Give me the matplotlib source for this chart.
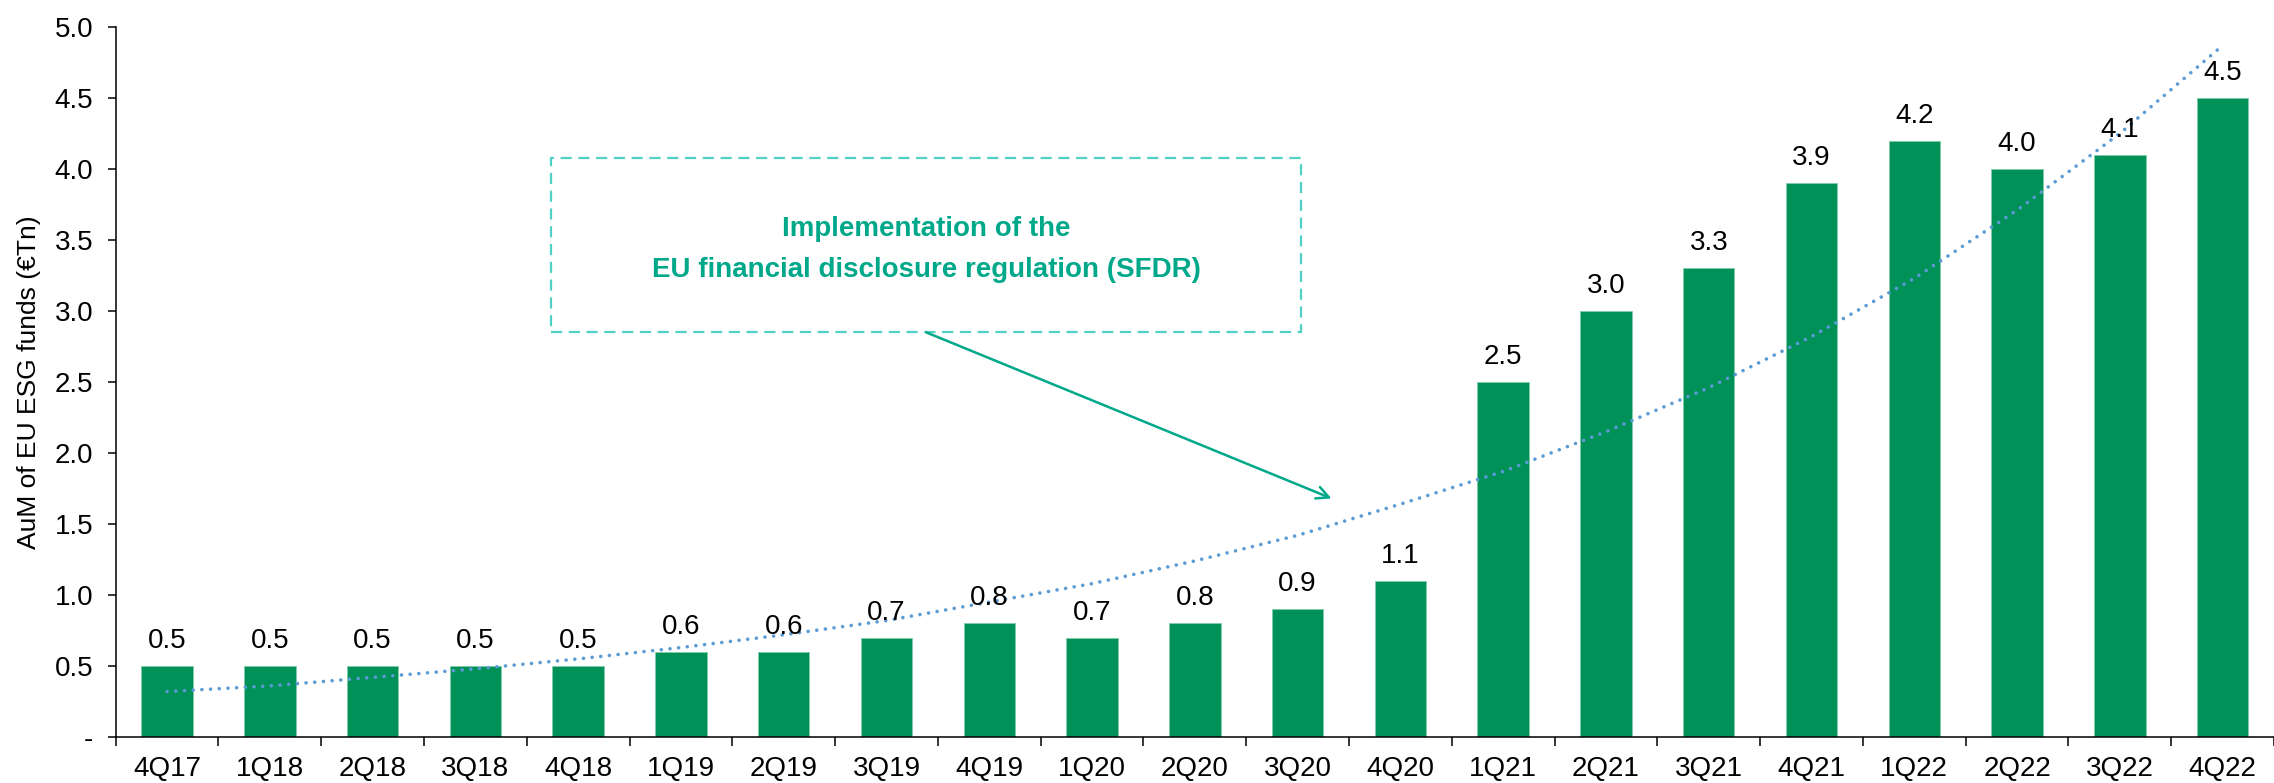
import numpy as np
import matplotlib
matplotlib.use("Agg")
from matplotlib import pyplot as plt
from matplotlib.patches import Rectangle

matplotlib.rcParams['font.family'] = ['Liberation Sans', 'DejaVu Sans']

quarters = ["4Q17", "1Q18", "2Q18", "3Q18", "4Q18", "1Q19", "2Q19", "3Q19", "4Q19",
            "1Q20", "2Q20", "3Q20", "4Q20", "1Q21", "2Q21", "3Q21", "4Q21",
            "1Q22", "2Q22", "3Q22", "4Q22"]
aum = [0.5, 0.5, 0.5, 0.5, 0.5, 0.6, 0.6, 0.7, 0.8, 0.7, 0.8, 0.9, 1.1,
       2.5, 3.0, 3.3, 3.9, 4.2, 4.0, 4.1, 4.5]
# dotted exponential trendline at each quarter
trend = [0.32, 0.36, 0.42, 0.48, 0.55, 0.63, 0.72, 0.82, 0.95, 1.08, 1.24,
         1.42, 1.64, 1.87, 2.15, 2.46, 2.82, 3.23, 3.71, 4.25, 4.87]
yticks = [0, 0.5, 1.0, 1.5, 2.0, 2.5, 3.0, 3.5, 4.0, 4.5, 5.0]
ytick_labels = ["-"] + ["%.1f" % t for t in yticks[1:]]

green = "#009159"
teal = "#00A88A"

fig = plt.figure(figsize=(22.74, 7.83), dpi=100)
ax = fig.add_axes([115.7 / 2274, 1 - 737 / 783, 1 - 115.7 / 2274, (737 - 27) / 783])

x = np.arange(len(quarters))
ax.bar(x, aum, width=0.5, color=green, edgecolor="#7fcfa8", linewidth=0.6, zorder=2)
ax.plot(x, trend, color="#5B9BD5", linewidth=2.6, linestyle=(0, (0.01, 2.4)),
        dash_capstyle="round", zorder=3)

for xi, v in zip(x, aum):
    ax.annotate("%.1f" % v, (xi, v), xytext=(0, 13), textcoords="offset points",
                ha="center", va="baseline", fontsize=20, zorder=4)

ax.set_xlim(-0.5, 20.37)
ax.set_ylim(0, 5)
ax.set_yticks(yticks)
ax.set_yticklabels(ytick_labels)
ax.set_xticks(x)
ax.set_xticklabels(quarters)
ax.set_xticks(np.arange(-0.5, 20.6, 1), minor=True)
ax.tick_params(axis="x", which="major", length=0, pad=14, labelsize=20)
ax.tick_params(axis="x", which="minor", length=6.5, width=1.1, direction="out")
ax.tick_params(axis="y", length=6, width=1.1, pad=10, labelsize=20)
for s in ["top", "right"]:
    ax.spines[s].set_visible(False)
for s in ["left", "bottom"]:
    ax.spines[s].set_linewidth(1.1)

fig.text(29 / 2274, 1 - 382 / 783, "AuM of EU ESG funds (€Tn)", rotation=90,
         ha="center", va="center", fontsize=19)

# SFDR annotation box
box = Rectangle((3.74, 2.85), 11.03 - 3.74, 4.08 - 2.85, fill=False,
                edgecolor="#4FD1C5", linewidth=1.6, linestyle=(0, (5, 3)), zorder=5)
ax.add_patch(box)
narrow = ['Liberation Sans Narrow', 'Liberation Sans']
ax.text(7.385, 3.58, "Implementation of the", ha="center", va="center",
        fontsize=20, fontweight="bold", color=teal, family=narrow, zorder=6)
ax.text(7.385, 3.29, "EU financial disclosure regulation (SFDR)", ha="center", va="center",
        fontsize=20, fontweight="bold", color=teal, family=narrow, zorder=6)
ax.annotate("", xy=(11.33, 1.68), xytext=(7.385, 2.85),
            arrowprops=dict(arrowstyle="->", color=teal, lw=1.8,
                            mutation_scale=22, shrinkA=0, shrinkB=0), zorder=6)

fig.savefig("out.png", dpi=100)
